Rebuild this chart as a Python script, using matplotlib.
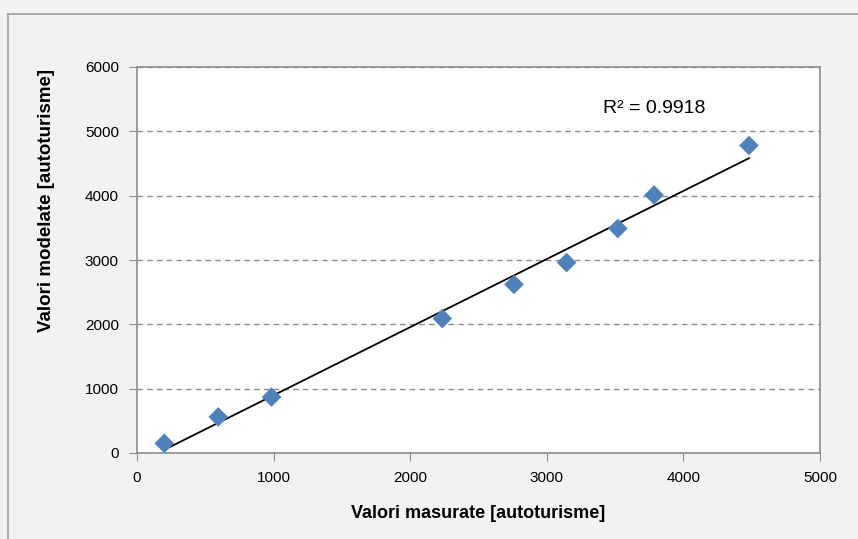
import numpy as np
import matplotlib
matplotlib.use('Agg')
import matplotlib.pyplot as plt
from matplotlib.lines import Line2D

measured = [200, 595, 985, 2235, 2760, 3145, 3520, 3785, 4480]
modelled = [150, 560, 870, 2090, 2620, 2960, 3490, 4010, 4780]

x_ticks = [0, 1000, 2000, 3000, 4000, 5000]
y_ticks = [0, 1000, 2000, 3000, 4000, 5000, 6000]

plt.rcParams['font.family'] = ['Liberation Sans', 'DejaVu Sans']

fig = plt.figure(figsize=(8.58, 5.39), dpi=100, facecolor='#f2f2f2')
ax = fig.add_axes([137/858, 1 - 453/539, (820 - 137)/858, (453 - 67)/539])
ax.set_facecolor('white')

# outer chart frame
fig.add_artist(Line2D([8/858, 8/858], [0, 1 - 14/539], transform=fig.transFigure,
                      color='#a0a0a0', lw=1.2))
fig.add_artist(Line2D([8/858, 1], [1 - 14/539, 1 - 14/539], transform=fig.transFigure,
                      color='#a0a0a0', lw=1.2))

x = np.array(measured, dtype=float)
y = np.array(modelled, dtype=float)
slope, intercept = np.polyfit(x, y, 1)
xl = np.array([x.min(), x.max()])
ax.plot(xl, slope * xl + intercept, color='black', lw=1.3, zorder=3)

ax.scatter(x, y, marker='D', s=100, color='#4f81bd', edgecolors='none', zorder=4)

ax.set_xlim(0, 5000)
ax.set_ylim(0, 6000)
ax.set_xticks(x_ticks)
ax.set_yticks(y_ticks)
ax.yaxis.grid(True, linestyle=(0, (4, 3)), color='#8c8c8c', lw=1)
ax.set_axisbelow(True)

for s in ax.spines.values():
    s.set_color('#8c8c8c')
    s.set_linewidth(1.2)

ax.tick_params(direction='out', length=6, color='#8c8c8c', labelsize=11)
ax.tick_params(axis='y', pad=7)
ax.tick_params(axis='x', pad=7)

ax.set_xlabel('Valori masurate [autoturisme]', fontsize=13, fontweight='bold', labelpad=14)
ax.set_ylabel('Valori modelate [autoturisme]', fontsize=13.5, fontweight='bold')
ax.yaxis.set_label_coords(-0.12, 0.653)

ax.text(3415, 5360, 'R² = 0.9918', fontsize=14, va='center')

fig.savefig('out.png', dpi=100, facecolor=fig.get_facecolor())
